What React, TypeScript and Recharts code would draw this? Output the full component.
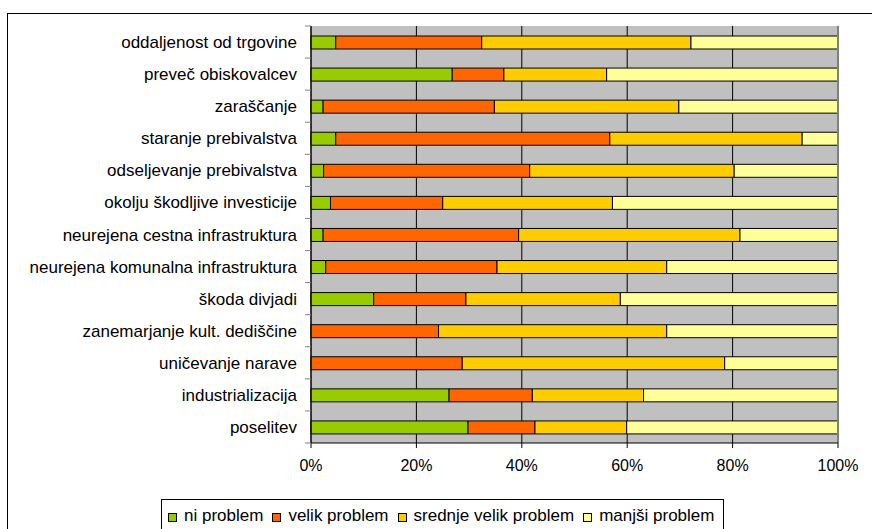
import { Bar, BarChart, CartesianGrid, ReferenceLine, XAxis, YAxis } from "recharts";

// Excel-like palette from the reference
const COLOR_NI = "#99cc00";
const COLOR_VELIK = "#ff6600";
const COLOR_SREDNJE = "#ffcc00";
const COLOR_MANJSI = "#ffff99";
const COLOR_PLOT = "#c0c0c0";
const FONT = "'Liberation Sans', Arial, sans-serif";

const categories = [
  "oddaljenost od trgovine",
  "preveč obiskovalcev",
  "zaraščanje",
  "staranje prebivalstva",
  "odseljevanje prebivalstva",
  "okolju škodljive investicije",
  "neurejena cestna infrastruktura",
  "neurejena komunalna infrastruktura",
  "škoda divjadi",
  "zanemarjanje kult. dediščine",
  "uničevanje narave",
  "industrializacija",
  "poselitev",
];

// shares in percent
const niProblem = [4.7, 26.8, 2.3, 4.7, 2.4, 3.7, 2.3, 2.8, 11.9, 0, 0, 26.2, 29.8];
const velikProblem = [27.7, 9.8, 32.5, 52.0, 39.1, 21.3, 37.1, 32.5, 17.5, 24.2, 28.7, 15.8, 12.7];
const srednjeVelikProblem = [39.7, 19.5, 35.0, 36.5, 38.8, 32.2, 42.0, 32.2, 29.3, 43.3, 49.8, 21.1, 17.4];
const manjsiProblem = [27.9, 43.9, 30.2, 6.8, 19.7, 42.8, 18.6, 32.5, 41.3, 32.5, 21.5, 36.9, 40.1];

const xTicks = [0, 20, 40, 60, 80, 100];

const data = categories.map((name, i) => ({
  name,
  ni: niProblem[i],
  velik: velikProblem[i],
  srednje: srednjeVelikProblem[i],
  manjsi: manjsiProblem[i],
}));

const series = [
  { key: "ni", label: "ni problem", color: COLOR_NI },
  { key: "velik", label: "velik problem", color: COLOR_VELIK },
  { key: "srednje", label: "srednje velik problem", color: COLOR_SREDNJE },
  { key: "manjsi", label: "manjši problem", color: COLOR_MANJSI },
];

const PLOT_HEIGHT = 417;
const BAND = PLOT_HEIGHT / categories.length;

function CategoryTick(props: any) {
  const { x, y, payload, index } = props;
  const axisX = x + 14;
  return (
    <g>
      <text x={x} y={y} dy={6} textAnchor="end" fontSize={17} fontFamily={FONT} fill="#000">
        {payload.value}
      </text>
      <line x1={axisX - 6} x2={axisX} y1={y + BAND / 2} y2={y + BAND / 2} stroke="#808080" />
      {index === 0 && (
        <line x1={axisX - 6} x2={axisX} y1={y - BAND / 2} y2={y - BAND / 2} stroke="#808080" />
      )}
    </g>
  );
}

function LegendBox() {
  return (
    <div
      style={{
        position: "absolute",
        left: 153,
        top: 485,
        height: 60,
        border: "1px solid #000",
        background: "#fff",
        display: "flex",
        alignItems: "flex-start",
        gap: 9,
        padding: "6px 9px 0 6px",
        fontFamily: FONT,
        fontSize: 17,
        lineHeight: "20px",
        whiteSpace: "nowrap",
        boxSizing: "border-box",
      }}
    >
      {series.map((s) => (
        <span key={s.key} style={{ display: "flex", alignItems: "center", gap: 7 }}>
          <span
            style={{
              width: 7,
              height: 7,
              background: s.color,
              border: "1px solid #000",
              display: "inline-block",
              marginTop: 2,
            }}
          />
          {s.label}
        </span>
      ))}
    </div>
  );
}

export default function App() {
  return (
    <div
      style={{
        position: "fixed",
        left: 0,
        top: 0,
        width: 872,
        height: 529,
        overflow: "hidden",
        background: "#fff",
      }}
    >
      <div
        style={{
          position: "absolute",
          left: 7,
          top: 13,
          width: 900,
          height: 600,
          border: "1px solid #000",
        }}
      >
        <BarChart
          width={862}
          height={515}
          data={data}
          layout="vertical"
          margin={{ top: 12, right: 32, left: 0, bottom: 46 }}
          barSize={13}
        >
          <CartesianGrid horizontal={false} stroke="#000" fill={COLOR_PLOT} fillOpacity={1} />
          <XAxis
            type="number"
            domain={[0, 100]}
            ticks={xTicks}
            tickFormatter={(v) => `${v}%`}
            stroke="#000"
            tickSize={5}
            tickMargin={12}
            height={40}
            tick={{ fontSize: 16, fontFamily: FONT, fill: "#000" }}
            interval={0}
          />
          <YAxis
            type="category"
            dataKey="name"
            width={303}
            stroke="#000"
            tickLine={false}
            tickSize={0}
            tickMargin={14}
            interval={0}
            tick={<CategoryTick />}
          />
          <ReferenceLine x={100} stroke="#808080" strokeWidth={2} />
          {series.map((s) => (
            <Bar
              key={s.key}
              dataKey={s.key}
              name={s.label}
              stackId="a"
              fill={s.color}
              stroke="#000"
              strokeWidth={1}
              isAnimationActive={false}
            />
          ))}
        </BarChart>
        <LegendBox />
      </div>
    </div>
  );
}
